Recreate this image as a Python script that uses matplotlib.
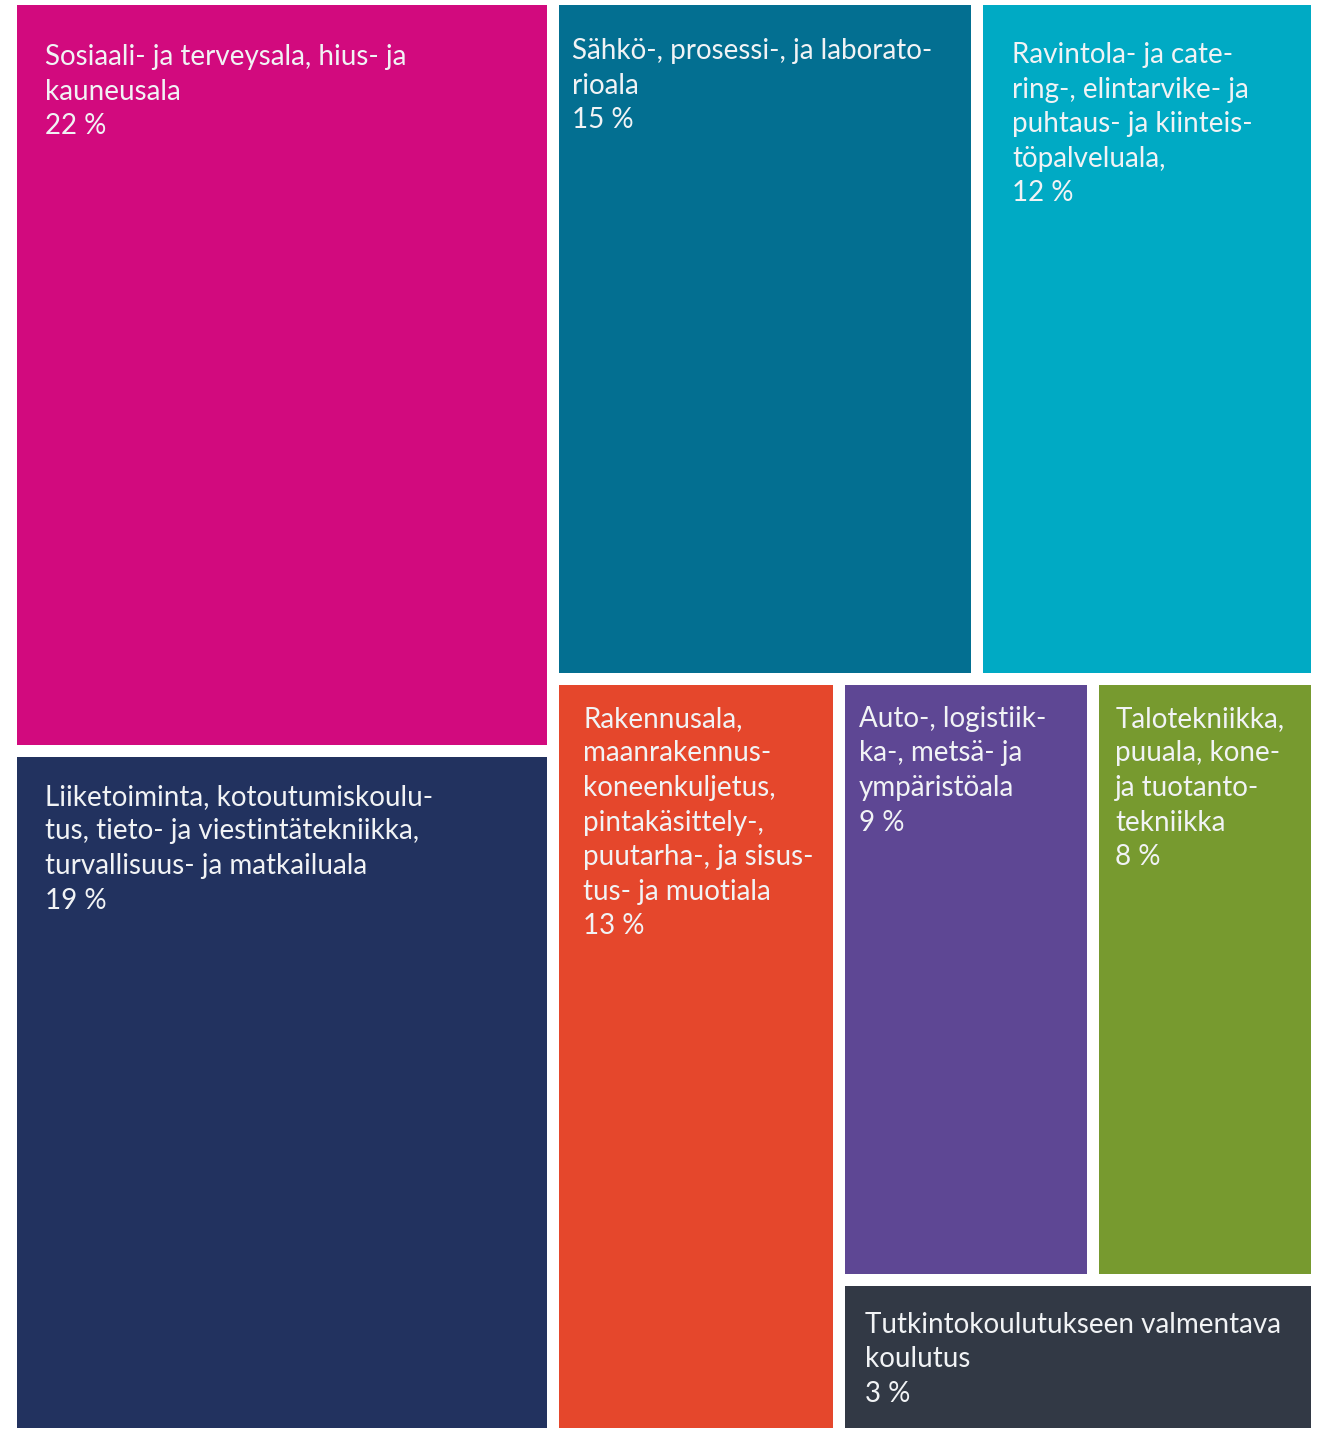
import matplotlib.pyplot as plt
from matplotlib.patches import Rectangle

# labels as printed in the cells (line breaks as in the original)
labels = [
    "Sosiaali- ja terveysala, hius- ja\nkauneusala",
    "Liiketoiminta, kotoutumiskoulu-\ntus, tieto- ja viestintätekniikka,\nturvallisuus- ja matkailuala",
    "Sähkö-, prosessi-, ja laborato-\nrioala",
    "Ravintola- ja cate-\nring-, elintarvike- ja\npuhtaus- ja kiinteis-\ntöpalveluala,",
    "Rakennusala,\nmaanrakennus-\nkoneenkuljetus,\npintakäsittely-,\npuutarha-, ja sisus-\ntus- ja muotiala",
    "Auto-, logistiik-\nka-, metsä- ja\nympäristöala",
    "Talotekniikka,\npuuala, kone-\nja tuotanto-\ntekniikka",
    "Tutkintokoulutukseen valmentava\nkoulutus",
]
percent = [22, 19, 15, 12, 13, 9, 8, 3]
# cell areas as drawn in the picture (share of the whole, %)
area = [21.7, 19.7, 15.5, 12.2, 11.6, 8.3, 7.1, 3.8]
colors = ["#d20a7e", "#22325f", "#036f91", "#00aac4",
          "#e5472c", "#5e4794", "#779a2f", "#323945"]

# slice-and-dice structure: "h" = side by side, "v" = stacked
tree = ("h", [("v", [0, 1]),
              ("v", [("h", [2, 3]),
                     ("h", [4, ("v", [("h", [5, 6]), 7])])])])

# text padding inside each cell (px): left, first baseline
pad_x = [28, 28, 13, 29, 24, 14, 16, 20]
pad_y = [60, 48, 54, 58, 42, 42, 42, 47]
line_h = 34.6
gap = 12

W, H = 1294, 1423


def total(node):
    if isinstance(node, int):
        return area[node]
    return sum(total(c) for c in node[1])


def layout(node, x, y, w, h, out):
    if isinstance(node, int):
        out[node] = (x, y, w, h)
        return
    kind, children = node
    s = total(node)
    pos = 0
    for c in children:
        frac = total(c) / s
        if kind == "h":
            layout(c, x + pos * w, y, frac * w, h, out)
        else:
            layout(c, x, y + pos * h, w, frac * h, out)
        pos += frac


rects = {}
layout(tree, 0, 0, W, H, rects)

fig = plt.figure(figsize=(13.18, 14.29), dpi=100)
ax = fig.add_axes([17 / 1318, 1 - 1428 / 1429, W / 1318, H / 1429])
ax.set_xlim(0, W)
ax.set_ylim(H, 0)
ax.axis("off")

for i in range(len(labels)):
    x, y, w, h = rects[i]
    # open a gap only on inner edges
    x0 = x + (gap / 2 if x > 1 else 0)
    y0 = y + (gap / 2 if y > 1 else 0)
    x1 = x + w - (gap / 2 if x + w < W - 1 else 0)
    y1 = y + h - (gap / 2 if y + h < H - 1 else 0)
    ax.add_patch(Rectangle((x0, y0), x1 - x0, y1 - y0, color=colors[i], lw=0))
    lines = labels[i].split("\n") + [f"{percent[i]} %"]
    for j, line in enumerate(lines):
        ax.text(x0 + pad_x[i], y0 + pad_y[i] + j * line_h, line,
                color="#f1f3f5", fontsize=20, family="Lato",
                va="baseline", ha="left")

fig.savefig("out.png", dpi=100)
